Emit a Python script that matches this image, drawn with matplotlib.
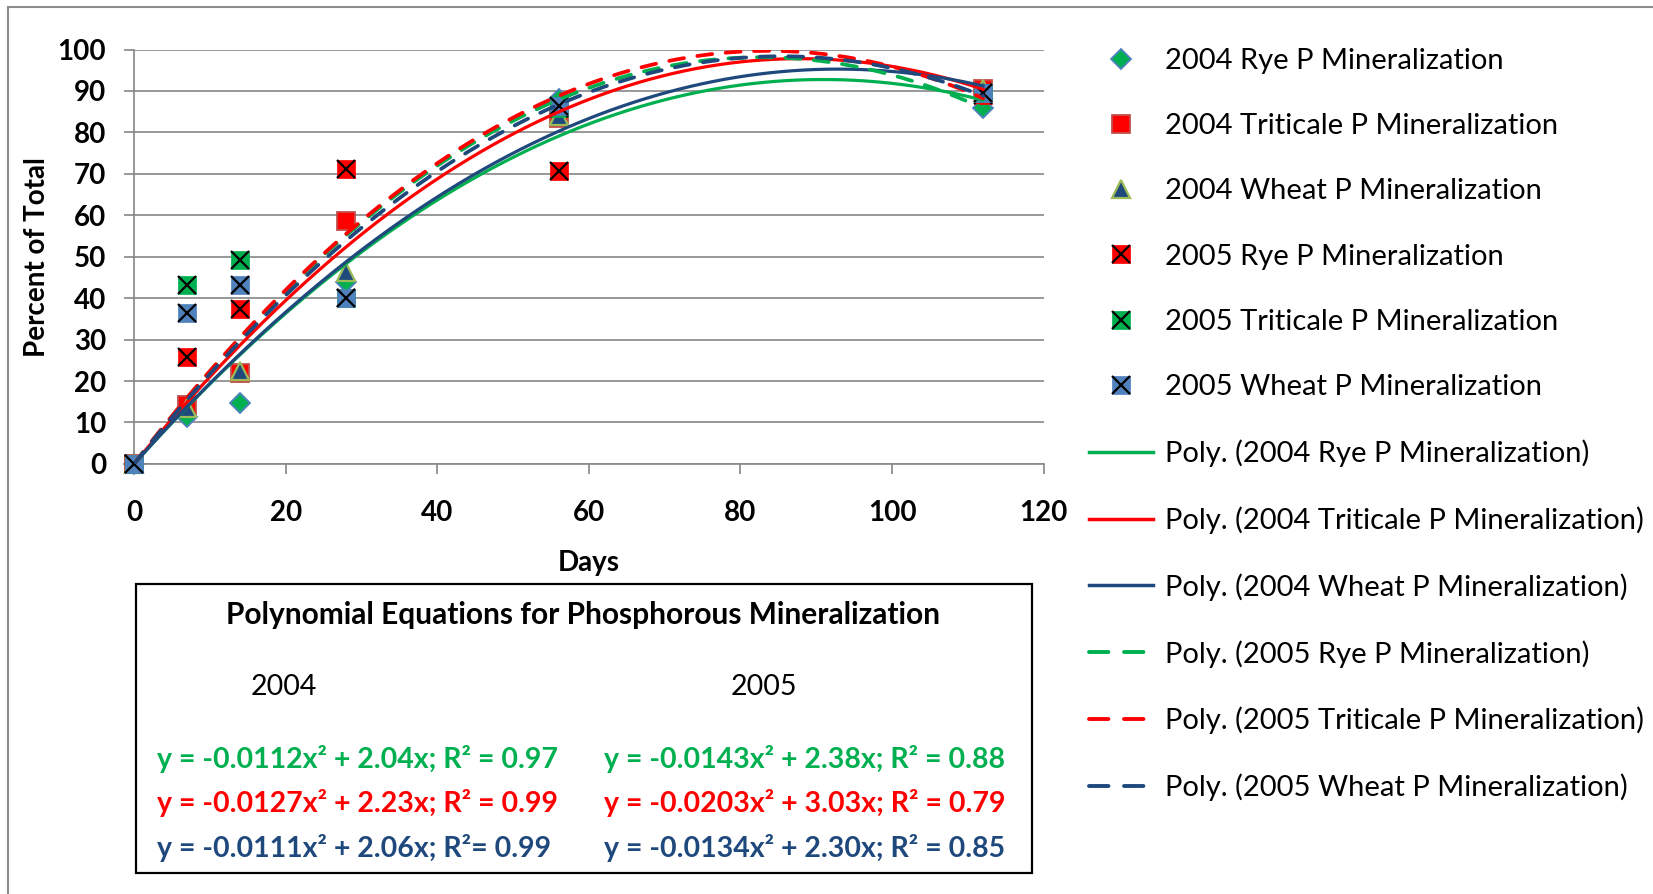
import numpy as np
import matplotlib
matplotlib.use('Agg')
import matplotlib.pyplot as plt
from matplotlib.lines import Line2D
from matplotlib.patches import Rectangle

plt.rcParams['font.family'] = ['Lato', 'DejaVu Sans']

# sampling days and percent of total P mineralized
days = [0, 7, 14, 28, 56, 112]
rye_2004 = [0, 11.2, 14.8, 44.0, 88.0, 86.0]
triticale_2004 = [0, 14.2, 21.9, 58.5, 83.5, 90.5]
wheat_2004 = [0, 13.4, 22.4, 46.4, 84.0, 90.5]
rye_2005 = [0, 25.7, 37.3, 71.2, 70.6, 89.0]
triticale_2005 = [0, 43.2, 49.1, 40.0, 86.0, 89.5]
wheat_2005 = [0, 36.5, 43.2, 40.0, 86.3, 89.5]

names = ["2004 Rye P Mineralization", "2004 Triticale P Mineralization",
         "2004 Wheat P Mineralization", "2005 Rye P Mineralization",
         "2005 Triticale P Mineralization", "2005 Wheat P Mineralization"]

eq_2004 = ["y = -0.0112x² + 2.04x; R² = 0.97",
           "y = -0.0127x² + 2.23x; R² = 0.99",
           "y = -0.0111x² + 2.06x; R²= 0.99"]
eq_2005 = ["y = -0.0143x² + 2.38x; R² = 0.88",
           "y = -0.0203x² + 3.03x; R² = 0.79",
           "y = -0.0134x² + 2.30x; R² = 0.85"]

green = '#00B050'
red = '#FF0000'
navy = '#1F497D'
steel = '#4F81BD'
grey = '#868686'


def poly_fit(x, y):
    # quadratic trendline with intercept forced to zero
    x = np.asarray(x, float)
    A = np.column_stack([x ** 2, x])
    coef = np.linalg.lstsq(A, np.asarray(y, float), rcond=None)[0]
    return coef


fig = plt.figure(figsize=(16.53, 8.94), dpi=100)
ax = fig.add_axes([0.0811, 0.4811, 0.5503, 0.4635])

mk = dict(ls='none', clip_on=False, zorder=3)
ax.plot(days, rye_2004, marker='D', ms=10, mfc=green, mec=steel, mew=1.3, **mk)
ax.plot(days, triticale_2004, marker='s', ms=13.5, mfc=red, mec='#C0504D', mew=1.3, **mk)
ax.plot(days, wheat_2004, marker='^', ms=13, mfc=navy, mec='#9BBB59', mew=1.6, **mk)
for vals, c in [(rye_2005, red), (triticale_2005, green), (wheat_2005, steel)]:
    ax.plot(days, vals, marker='s', ms=13.5, mfc=c, mec=c, mew=0.5, **mk)
    ax.plot(days, vals, marker='x', ms=13, mec='black', mew=1.6, **mk)

# trendlines
xs = np.linspace(0, 112, 300)
series = [rye_2004, triticale_2004, wheat_2004, rye_2005, triticale_2005, wheat_2005]
colors = [green, red, navy, green, red, navy]
for i, (vals, c) in enumerate(zip(series, colors)):
    a, b = poly_fit(days, vals)
    if i < 3:
        ax.plot(xs, a * xs ** 2 + b * xs, color=c, lw=2.3, zorder=4)
    else:
        ax.plot(xs, a * xs ** 2 + b * xs, color=c, lw=2.7, zorder=4,
                dashes=(4.0, 3.6), dash_capstyle='round')

ax.set_xlim(0, 120)
ax.set_ylim(0, 100)
ax.set_xticks(range(0, 121, 20))
ax.set_yticks(range(0, 101, 10))
ax.yaxis.grid(True, color=grey, lw=1.2)
ax.set_axisbelow(True)
for s in ['top', 'right']:
    ax.spines[s].set_visible(False)
for s in ['left', 'bottom']:
    ax.spines[s].set_color(grey)
    ax.spines[s].set_linewidth(1.2)
ax.tick_params(axis='y', direction='out', length=7, width=1.2, color=grey, pad=13, labelsize=20)
ax.tick_params(axis='x', direction='out', length=7, width=1.2, color=grey, pad=19, labelsize=20)
for lab in ax.get_xticklabels() + ax.get_yticklabels():
    lab.set_fontweight('bold')

ax.set_xlabel("Days", fontsize=20, fontweight='bold')
ax.xaxis.set_label_coords(0.5, -0.239)
ax.xaxis.label.set_va('center')
ax.set_ylabel("Percent of Total", fontsize=20, fontweight='bold')
ax.yaxis.set_label_coords(-0.107, 0.5)
ax.yaxis.label.set_va('center')

# legend
handles = [
    Line2D([], [], ls='none', marker='D', ms=10, mfc=green, mec=steel, mew=1.3),
    Line2D([], [], ls='none', marker='s', ms=13.5, mfc=red, mec='#C0504D', mew=1.3),
    Line2D([], [], ls='none', marker='^', ms=13, mfc=navy, mec='#9BBB59', mew=1.6),
]
for c in [red, green, steel]:
    handles.append((Line2D([], [], ls='none', marker='s', ms=13.5, mfc=c, mec=c, mew=0.5),
                    Line2D([], [], ls='none', marker='x', ms=13, mec='black', mew=1.6)))
for i, c in enumerate(colors):
    if i < 3:
        handles.append(Line2D([], [], color=c, lw=2.5))
    else:
        handles.append(Line2D([], [], color=c, lw=2.8, dashes=(5.0, 4.0), dash_capstyle='round'))
labels = names + ["Poly. (%s)" % n for n in names]
fig.legend(handles, labels, loc='upper left', bbox_to_anchor=(0.659, 0.9463),
           frameon=False, fontsize=21, handlelength=2.2, handletextpad=0.38,
           labelspacing=1.345, borderpad=0, borderaxespad=0, numpoints=1)

# equations box
fig.add_artist(Rectangle((0.0823, 0.0235), 0.542, 0.3233, transform=fig.transFigure,
                         fill=False, edgecolor='black', lw=1.6))
fig.text(0.3527, 0.3121, "Polynomial Equations for Phosphorous Mineralization",
         ha='center', va='center', fontsize=21.5, fontweight='bold')
fig.text(0.1716, 0.2315, "2004", ha='center', va='center', fontsize=20.5)
fig.text(0.4622, 0.2315, "2005", ha='center', va='center', fontsize=20.5)
eq_y = [0.151, 0.1018, 0.0515]
for txt, y, c in zip(eq_2004, eq_y, [green, red, navy]):
    fig.text(0.095, y, txt, ha='left', va='center', fontsize=20.5, fontweight='bold', color=c)
for txt, y, c in zip(eq_2005, eq_y, [green, red, navy]):
    fig.text(0.3654, y, txt, ha='left', va='center', fontsize=20.5, fontweight='bold', color=c)

# outer chart frame
fig.add_artist(Rectangle((8 / 1653, -0.05), 1.1, 1 - 7 / 894 + 0.05, transform=fig.transFigure,
                         fill=False, edgecolor='#8C8C8C', lw=1.5))

fig.savefig('out.png', dpi=100)
